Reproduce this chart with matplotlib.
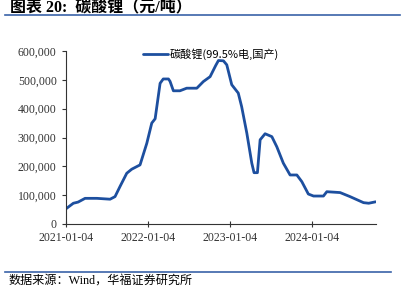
import numpy as np
import pandas as pd
import matplotlib
matplotlib.use("Agg")
import matplotlib.pyplot as plt
import matplotlib.dates as mdates
from matplotlib.ticker import FuncFormatter

# 碳酸锂价格（元/吨），读图估计
dates = ["2021-01-04", "2021-02-07", "2021-02-28", "2021-03-31", "2021-05-22",
         "2021-07-20", "2021-08-11", "2021-09-02", "2021-10-02", "2021-10-24",
         "2021-11-30", "2021-12-30", "2022-01-21", "2022-02-05", "2022-02-27",
         "2022-03-13", "2022-04-05", "2022-04-12", "2022-04-27", "2022-05-26",
         "2022-06-25", "2022-08-09", "2022-09-07", "2022-10-07", "2022-11-01",
         "2022-11-13", "2022-12-05", "2022-12-20", "2023-01-11", "2023-02-09",
         "2023-02-24", "2023-03-19", "2023-04-10", "2023-04-20", "2023-05-05",
         "2023-05-17", "2023-06-08", "2023-07-08", "2023-07-30", "2023-08-28",
         "2023-09-27", "2023-10-27", "2023-11-18", "2023-12-17", "2024-01-09",
         "2024-02-22", "2024-03-08", "2024-05-06", "2024-06-19", "2024-08-18",
         "2024-09-10", "2024-10-11"]
prices = [52000, 72000, 76000, 89000, 89000,
          86000, 95000, 130000, 176000, 190000,
          205000, 280000, 350000, 365000, 488000,
          503000, 503000, 495000, 462000, 462000,
          471000, 471000, 494000, 511000, 550000,
          567000, 566000, 552000, 483000, 454000,
          407000, 315000, 211000, 178000, 178000,
          292000, 313000, 303000, 268000, 211000,
          170000, 170000, 147000, 104000, 97000,
          97000, 112000, 109000, 95000, 74000,
          72000, 77000]
xticks = ["2021-01-04", "2022-01-04", "2023-01-04", "2024-01-04"]

x = pd.to_datetime(dates)

plt.rcParams['font.family'] = ['Liberation Serif', 'Noto Sans CJK SC']

fig = plt.figure(figsize=(4.06, 2.9), dpi=100)
ax = fig.add_axes([65.7 / 406, 1 - 224 / 290, (375.7 - 65.7) / 406, (224 - 51) / 290])

ax.plot(x, prices, color="#1d4f9f", lw=2, solid_joinstyle="round",
        solid_capstyle="round", label="碳酸锂(99.5%电,国产)")

ax.set_ylim(0, 600000)
ax.set_yticks(np.arange(0, 600001, 100000))
ax.yaxis.set_major_formatter(FuncFormatter(lambda v, p: f"{int(v):,}"))
ax.set_xlim(pd.Timestamp("2021-01-04"), pd.Timestamp("2024-10-11"))
ax.set_xticks(pd.to_datetime(xticks))
ax.xaxis.set_major_formatter(mdates.DateFormatter("%Y-%m-%d"))

for s in ["top", "right"]:
    ax.spines[s].set_visible(False)
for s in ["left", "bottom"]:
    ax.spines[s].set_color("#333333")
    ax.spines[s].set_linewidth(0.8)
ax.tick_params(axis="both", labelsize=8.5, colors="#333333", length=3, width=0.8)
ax.tick_params(axis="x", direction="inout", length=4)

ax.legend(loc="upper center", bbox_to_anchor=(0.47, 1.07), frameon=False,
          handlelength=2.2, handletextpad=0.2,
          prop={"family": ["Noto Sans CJK SC"], "size": 8})

# 标题与来源
fig.text(10 / 406, 1 - 7 / 290, "图表 20:  碳酸锂（元/吨）", fontsize=11.5, fontweight="bold",
         va="center", ha="left", family=["Liberation Serif", "Noto Sans CJK SC"])
fig.add_artist(plt.Line2D([5 / 406, 400 / 406], [1 - 15 / 290, 1 - 15 / 290],
                          color="#3a62a8", lw=1.2))
fig.add_artist(plt.Line2D([5 / 406, 391 / 406], [1 - 271.5 / 290, 1 - 271.5 / 290],
                          color="#3a62a8", lw=1.2))
fig.text(9 / 406, 1 - 281 / 290, "数据来源：Wind，华福证券研究所", fontsize=8.7,
         va="center", ha="left", family=["Liberation Serif", "Noto Sans CJK SC"])

fig.savefig("out.png", dpi=100)
